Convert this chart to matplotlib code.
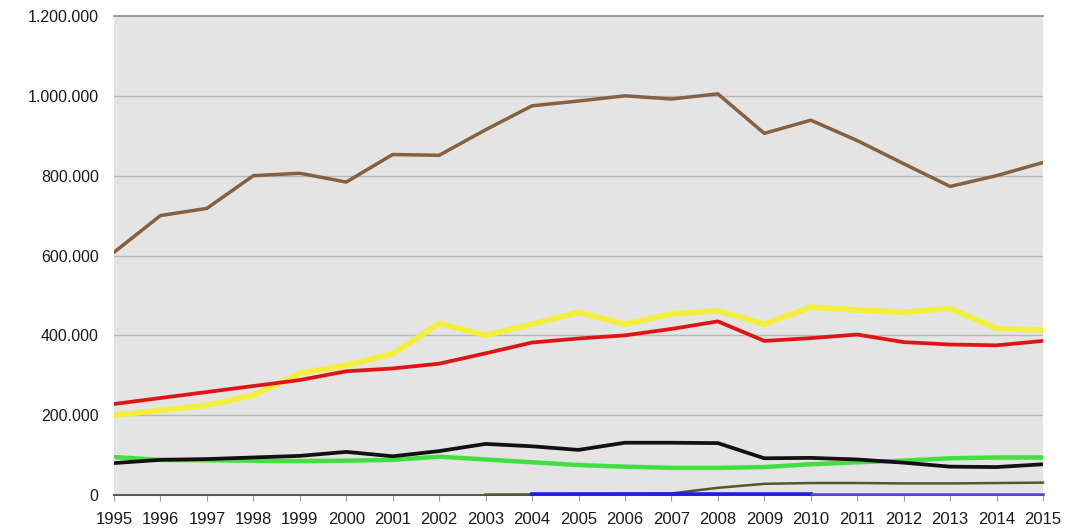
import matplotlib
matplotlib.use("Agg")
import matplotlib.pyplot as plt
from matplotlib.ticker import FuncFormatter
import numpy as np

nan = np.nan
years = list(range(1995, 2016))
brown = [608000, 700000, 718000, 800000, 806000, 784000, 853000, 851000, 915000, 975000, 987000,
         1000000, 992000, 1005000, 906000, 939000, 888000, 830000, 773000, 800000, 833000]
red = [228000, 243000, 258000, 273000, 288000, 310000, 317000, 329000, 355000, 382000, 392000,
       400000, 416000, 435000, 386000, 393000, 402000, 383000, 377000, 375000, 386000]
yellow = [200000, 212000, 225000, 250000, 305000, 325000, 354000, 430000, 400000, 428000, 458000,
          428000, 454000, 461000, 428000, 471000, 463000, 458000, 467000, 417000, 413000]
black = [80000, 88000, 90000, 94000, 98000, 108000, 97000, 110000, 128000, 122000, 113000,
         131000, 131000, 130000, 92000, 93000, 89000, 81000, 71000, 70000, 77000]
green = [95000, 88000, 87000, 86000, 85000, 86000, 88000, 96000, 89000, 82000, 75000,
         71000, 68000, 68000, 70000, 77000, 82000, 86000, 92000, 94000, 94000]
olive = [nan] * 8 + [1000, 1500, 2000, 2500, 4000, 18000, 28000, 30000, 30000, 29000, 29000, 30000, 31000]
blue = [nan] * 9 + [3500] * 7 + [nan] * 5
violet = [nan] * 15 + [3000] * 6
yticks = [0, 200000, 400000, 600000, 800000, 1000000, 1200000]

plt.rcParams['font.family'] = ['Liberation Sans', 'DejaVu Sans']

fig = plt.figure(figsize=(10.65, 5.28), dpi=100)
ax = fig.add_axes([114 / 1065, 33 / 528, (1043 - 114) / 1065, (495 - 16) / 528])
ax.set_facecolor('#e4e4e4')

for y in yticks[1:-1]:
    ax.axhline(y, color='#b8b8b8', lw=1.0, zorder=1)
ax.axhline(yticks[-1], color='#8a8a8a', lw=1.2, zorder=1, clip_on=False)

ax.plot(years, olive, color='#4f5a2c', lw=1.8, zorder=3, clip_on=False)
ax.plot(years, blue, color='#1f1fe0', lw=2.6, zorder=3, clip_on=False)
ax.plot(years, violet, color='#5b40dd', lw=1.8, zorder=3, clip_on=False)
ax.plot(years, green, color='#3fe03f', lw=3.2, zorder=4)
ax.plot(years, black, color='#111111', lw=2.7, zorder=5)
ax.plot(years, yellow, color='#f3ef3a', lw=4.0, zorder=6)
ax.plot(years, red, color='#e01414', lw=2.7, zorder=7)
ax.plot(years, brown, color='#86603f', lw=2.5, zorder=8)

ax.set_xlim(1995, 2015)
ax.set_ylim(0, 1200000)
ax.set_xticks(years)
ax.set_xticklabels([str(y) for y in years], fontsize=12)
ax.set_yticks(yticks)
ax.yaxis.set_major_formatter(FuncFormatter(lambda v, p: f"{int(v):,}".replace(",", ".")))
ax.tick_params(axis='y', length=0, pad=11, labelsize=11.5, colors='#1a1a1a')
ax.tick_params(axis='x', length=4, width=0.8, color='#999999', pad=8, labelcolor='#1a1a1a')

for s in ['top', 'right', 'left']:
    ax.spines[s].set_visible(False)
ax.spines['bottom'].set_color('#5a5a4a')
ax.spines['bottom'].set_linewidth(1.5)
ax.spines['bottom'].set_zorder(2)

fig.savefig('out.png', dpi=100)
